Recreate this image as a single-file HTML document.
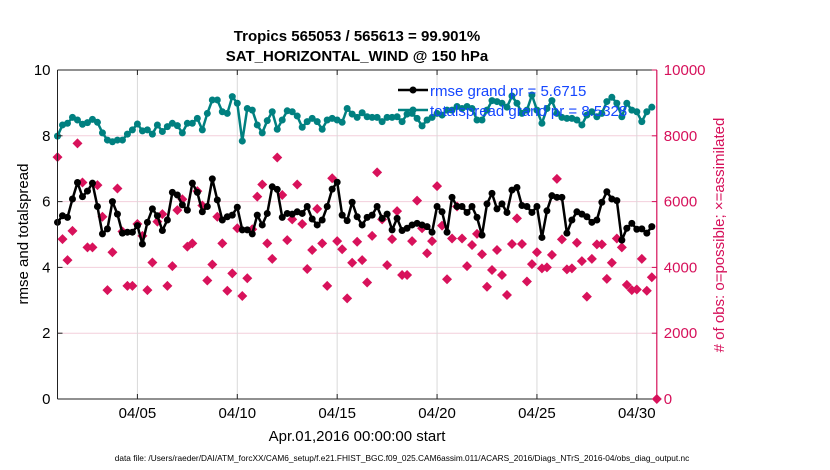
<!DOCTYPE html>
<html><head><meta charset="utf-8"><style>
html,body{margin:0;padding:0;background:#fff;}
svg{display:block;font-family:"Liberation Sans",sans-serif;}
</style></head><body>
<svg id="chart" width="830" height="470" viewBox="0 0 830 470">
<text x="357" y="41" text-anchor="middle" font-size="15" font-weight="bold">Tropics 565053 / 565613 = 99.901%</text>
<text x="357" y="61" text-anchor="middle" font-size="15" font-weight="bold">SAT_HORIZONTAL_WIND @ 150 hPa</text>
<g id="grid"></g>
<g id="series"></g>
<g id="axes"></g>
<text x="0" y="0" transform="translate(28,234) rotate(-90)" text-anchor="middle" font-size="15">rmse and totalspread</text>
<text x="0" y="0" transform="translate(724,235) rotate(-90)" text-anchor="middle" font-size="15" fill="#d6105a"># of obs: o=possible; ×=assimilated</text>
<text x="357" y="441" text-anchor="middle" font-size="15">Apr.01,2016 00:00:00 start</text>
<text x="402" y="461" text-anchor="middle" font-size="8.3">data file: /Users/raeder/DAI/ATM_forcXX/CAM6_setup/f.e21.FHIST_BGC.f09_025.CAM6assim.011/ACARS_2016/Diags_NTrS_2016-04/obs_diag_output.nc</text>
<g>
<line x1="398" y1="90" x2="428" y2="90" stroke="#000" stroke-width="2.5"/>
<circle cx="413" cy="90" r="3.5" fill="#000"/>
<text x="430" y="96" font-size="15" fill="#1446ff">rmse grand pr = 5.6715</text>
<line x1="398" y1="110" x2="428" y2="110" stroke="#008080" stroke-width="2.5"/>
<circle cx="413" cy="110" r="3.5" fill="#008080"/>
<text x="430" y="116" font-size="15" fill="#1446ff">totalspread grand pr = 8.5328</text>
</g>
</svg>
<script>
const rmse = [5.37,5.57,5.52,6.08,6.58,6.15,6.32,6.56,5.85,5.02,5.17,6.0,5.62,5.04,5.07,5.07,5.27,4.71,5.37,5.78,
5.57,5.12,5.44,6.28,6.2,5.9,5.74,6.56,6.28,5.69,5.85,6.69,6.05,5.44,5.54,5.59,5.83,5.14,5.14,5.02,
5.59,5.29,5.64,6.45,6.37,5.52,5.64,5.62,5.69,5.64,5.85,5.47,5.29,5.44,5.85,6.38,6.59,5.59,5.42,5.98,
5.54,5.29,5.52,5.59,5.85,5.49,5.62,5.14,5.49,5.12,5.19,5.29,5.34,5.29,5.24,5.07,5.85,5.69,5.07,6.13,
5.85,5.85,5.67,5.85,5.52,4.98,5.93,6.25,5.78,5.93,5.67,6.35,6.43,5.88,5.85,5.67,5.85,4.91,5.72,6.18,
6.13,6.13,5.04,5.44,5.69,5.62,5.54,5.37,5.44,5.98,6.30,6.08,6.03,4.83,5.19,5.34,5.16,5.17,5.04,5.24];
const spread = [7.99,8.33,8.38,8.56,8.48,8.35,8.40,8.50,8.41,8.09,7.87,7.82,7.87,7.87,8.05,8.18,8.36,8.15,8.18,8.05,
8.33,8.13,8.28,8.38,8.31,8.09,8.38,8.38,8.53,8.18,8.68,9.09,9.09,8.73,8.68,9.19,8.99,7.84,8.83,8.78,
8.33,8.09,8.46,8.73,8.20,8.48,8.76,8.73,8.60,8.26,8.43,8.53,8.43,8.20,8.48,8.53,8.48,8.41,8.83,8.66,
8.56,8.70,8.58,8.56,8.56,8.43,8.56,8.56,8.58,8.43,8.66,8.68,8.53,8.30,8.48,8.56,8.68,8.63,8.78,8.78,
8.89,8.83,8.89,8.83,8.48,8.48,8.78,9.07,9.04,8.99,8.87,9.21,8.99,8.68,8.78,9.24,8.78,8.38,8.83,9.07,
8.68,8.56,8.53,8.53,8.48,8.33,8.63,8.73,8.58,8.68,9.04,9.17,8.99,8.58,8.99,8.78,8.73,8.43,8.73,8.87];
const nobs = [7350,4860,4220,5110,7770,6580,4610,4610,6500,5540,3310,4460,6400,5090,3440,3440,5320,4960,3310,4150,
5390,5620,3440,4040,5740,6070,4630,4730,6320,5880,3600,4090,5540,4730,3290,3820,5190,3130,3670,5160,
6150,6520,4730,4260,7340,6200,4830,5460,6520,5320,3950,4530,5780,4730,3440,6710,4800,4550,3060,4140,
4780,4220,3540,4960,6890,5460,4070,4860,5710,3770,3770,4800,6030,5190,4430,4800,6470,5270,3640,4880,
5850,4880,4040,4680,5020,4400,3410,3920,4530,3770,3160,4710,5490,4710,3570,4100,4460,3970,4000,4380,
6690,4850,3940,3970,4750,4190,3110,4260,4700,4700,3650,4140,4880,4610,3470,3310,3330,4260,3290,3700,0];
const xTickDays = [4,9,14,19,24,29];
const xTickLabels = ["04/05","04/10","04/15","04/20","04/25","04/30"];
const yTicks = [0,2,4,6,8,10];
const y2Ticks = [0,2000,4000,6000,8000,10000];
const stepDays = 0.25;

const L=57.5,R=656.8,T=70,B=399;
const xs = d => L + (d/30)*(R-L);
const ys = v => B - (v/10)*(B-T);
const y2s = v => B - (v/10000)*(B-T);
const NS="http://www.w3.org/2000/svg";
function mk(tag, attrs, parent){const e=document.createElementNS(NS,tag);for(const k in attrs)e.setAttribute(k,attrs[k]);parent.appendChild(e);return e;}
const grid=document.getElementById('grid'), ser=document.getElementById('series'), ax=document.getElementById('axes');

mk('rect',{x:L,y:T,width:R-L,height:B-T,fill:'#fff'},grid);
yTicks.forEach(t=>{ if(t>0&&t<10){const g=mk('line',{x1:L,x2:R,y1:ys(t),y2:ys(t),stroke:'#f3cfdc','stroke-width':1},grid);

}});
xTickDays.forEach(d=>{const g=mk('line',{x1:xs(d),x2:xs(d),y1:T,y2:B,stroke:'#d9d9d9','stroke-width':1},grid);

});

nobs.forEach((v,i)=>{const cx=xs(i*stepDays),cy=y2s(v);
const p=mk('path',{d:`M${cx} ${cy-5}L${cx+5} ${cy}L${cx} ${cy+5}L${cx-5} ${cy}Z`,fill:'#d8125b'},ser);

});

function line(arr,color,name){
 const pts=arr.map((v,i)=>xs(i*stepDays).toFixed(2)+','+ys(v).toFixed(2)).join(' ');
 const pl=mk('polyline',{points:pts,fill:'none',stroke:color,'stroke-width':2.5,'stroke-linejoin':'round'},ser);
 
 
 arr.forEach((v,i)=>{const c=mk('circle',{cx:xs(i*stepDays),cy:ys(v),r:3.5,fill:color},ser);
 
 });
}
line(spread,'#008080','totalspread');
line(rmse,'#000','rmse');

mk('line',{x1:L,x2:R,y1:T,y2:T,stroke:'#222','stroke-width':1},ax);
mk('line',{x1:L,x2:R,y1:B,y2:B,stroke:'#222','stroke-width':1},ax);
mk('line',{x1:L,x2:L,y1:T,y2:B,stroke:'#222','stroke-width':1},ax);
mk('line',{x1:R,x2:R,y1:T,y2:B,stroke:'#d6105a','stroke-width':1.2},ax);
yTicks.forEach(t=>{const y=ys(t);
mk('line',{x1:L,x2:L+5,y1:y,y2:y,stroke:'#222'},ax);
const tx=mk('text',{x:L-7,y:y+5,'text-anchor':'end','font-size':15},ax);tx.textContent=t;

});
y2Ticks.forEach(t=>{const y=y2s(t);
mk('line',{x1:R-5,x2:R,y1:y,y2:y,stroke:'#d6105a'},ax);
const tx=mk('text',{x:R+7,y:y+5,'font-size':15,fill:'#d6105a'},ax);tx.textContent=t;

});
xTickDays.forEach((d,i)=>{const x=xs(d);
mk('line',{x1:x,x2:x,y1:B-5,y2:B,stroke:'#222'},ax);mk('line',{x1:x,x2:x,y1:T,y2:T+5,stroke:'#222'},ax);
const tx=mk('text',{x:x,y:418,'text-anchor':'middle','font-size':15},ax);tx.textContent=xTickLabels[i];

});
</script>
</body></html>
